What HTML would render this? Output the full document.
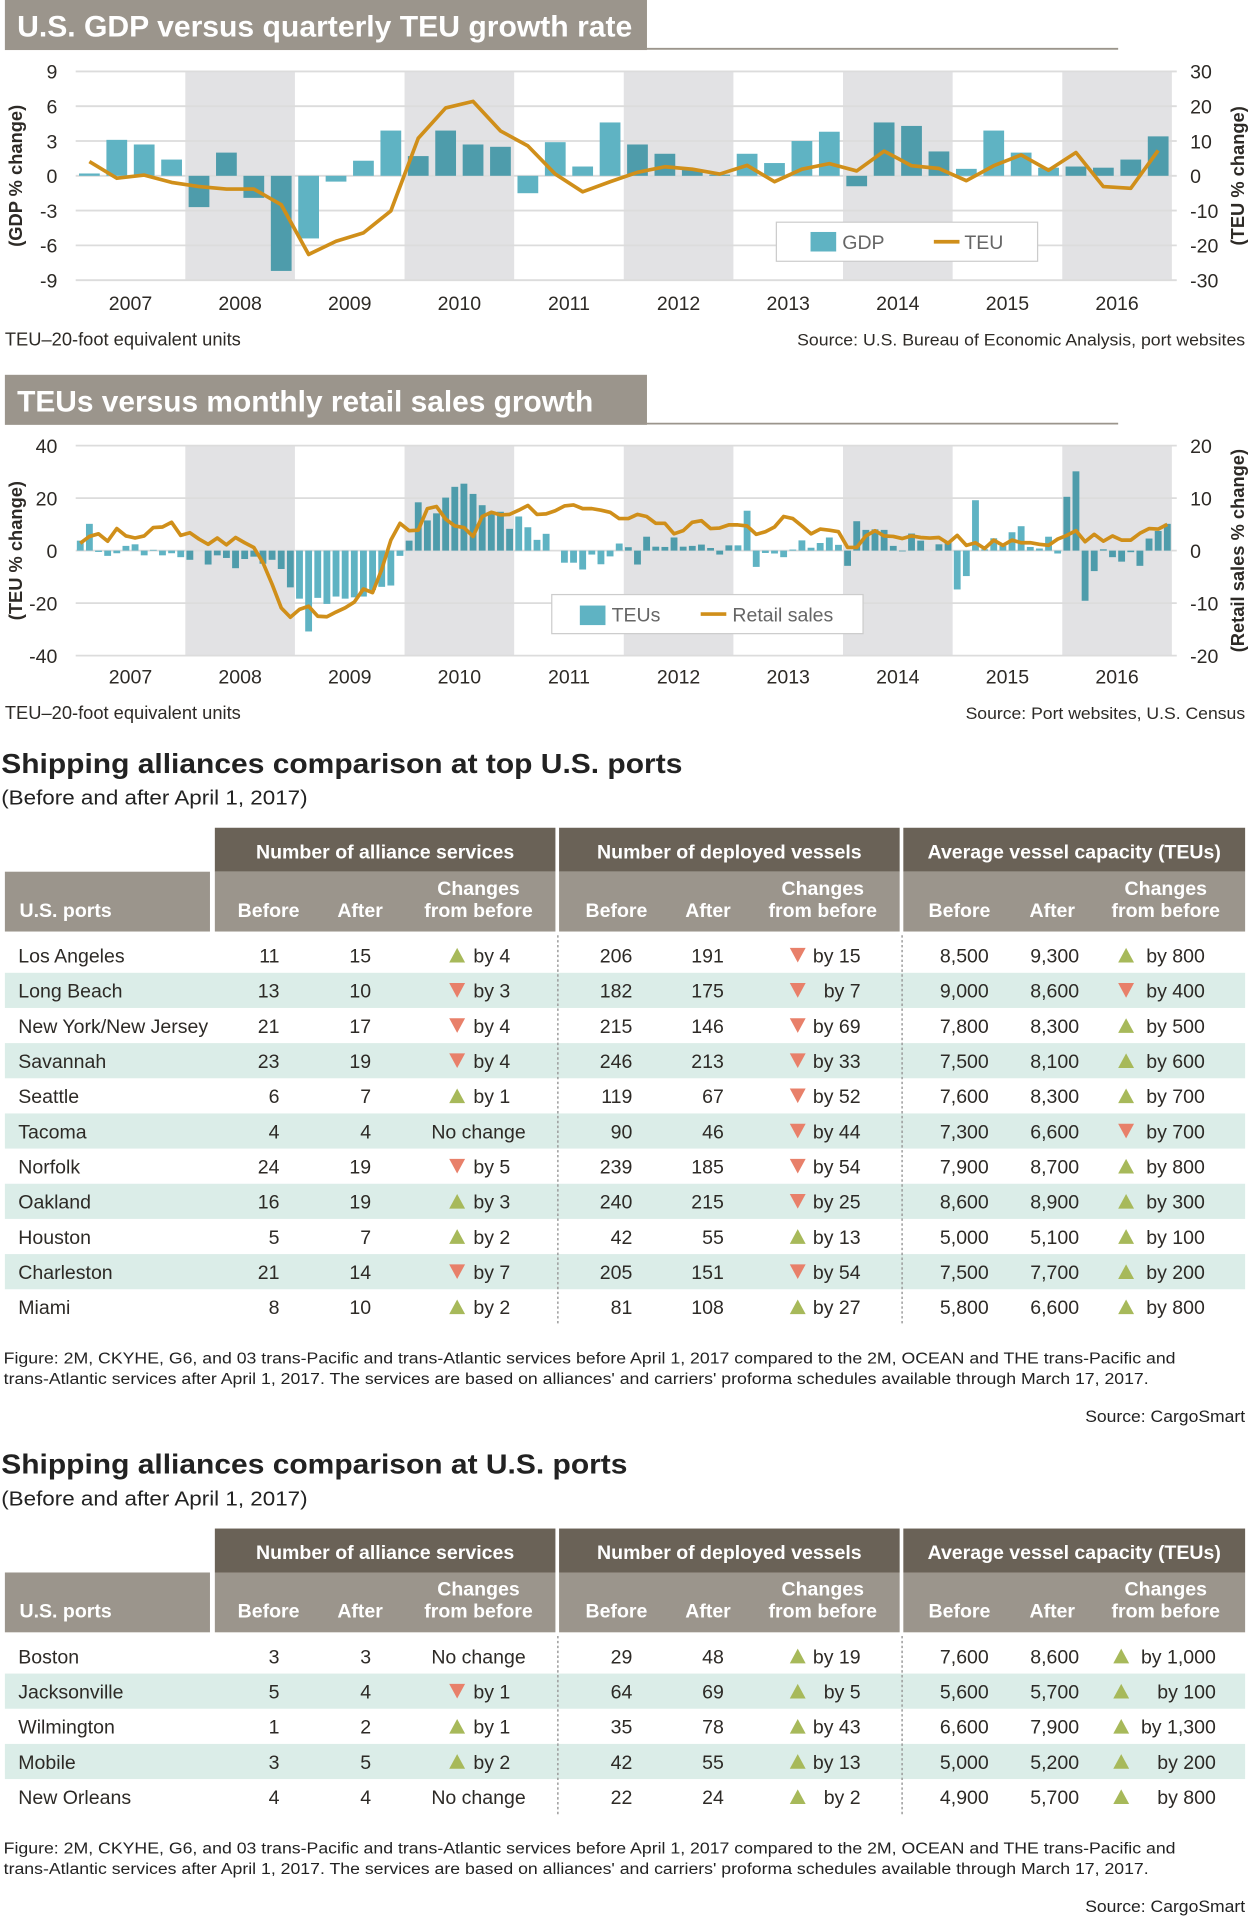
<!DOCTYPE html>
<html><head><meta charset="utf-8">
<style>
html,body{margin:0;padding:0;background:#fff;}
svg{display:block;font-family:"Liberation Sans",Arial,sans-serif;}
</style></head>
<body>
<svg id="page" width="1250" height="1918" viewBox="0 0 1024 1571" preserveAspectRatio="none" xmlns="http://www.w3.org/2000/svg">
  <g id="c1"></g>
  <g id="c2"></g>
  <g id="t1"></g>
  <g id="t2"></g>
</svg>
<script>
// ---------- Chart 1 data (quarterly 2007Q1..2016Q4) ----------
const years = [2007,2008,2009,2010,2011,2012,2013,2014,2015,2016];
const gdpTicks = [9,6,3,0,-3,-6,-9];
const teuTicks1 = [30,20,10,0,-10,-20,-30];
const gdpValues = [0.2,3.1,2.7,1.4, -2.7,2.0,-1.9,-8.2, -5.4,-0.5,1.3,3.9, 1.7,3.9,2.7,2.5,
  -1.5,2.9,0.8,4.6, 2.7,1.9,0.5,0.1, 1.9,1.1,3.0,3.8, -0.9,4.6,4.3,2.1, 0.6,3.9,2.0,0.7, 0.8,0.7,1.4,3.4];
const teuQuarterly = [4.1,-0.7,0.2,-1.9, -3.1,-3.8,-3.8,-8.3, -22.6,-18.8,-16.4,-10.1, 10.8,19.5,21.4,12.9,
  8.6,0.5,-4.6,-1.7, 1.0,2.6,1.9,0.5, 3.0,-1.7,1.9,3.5, 1.4,7.1,2.9,2.1, -1.4,2.9,6.0,1.6, 6.7,-3.1,-3.6,7.3];
// ---------- Chart 2 data (monthly 2007-01..2016-12) ----------
const teuTicks2 = [40,20,0,-20,-40];
const retailTicks = [20,10,0,-10,-20];
const teuMonthly = [3.8,10.2,-0.5,-2,-1,1.8,2.4,-1.8,0.3,-1.8,-1,-2.5,
  -3.5,0,-5.3,-1.8,-2.8,-6.7,-3.2,-2.3,-5,-3.5,-7,-14,
  -18.3,-30.8,-18,-20.3,-17.5,-18.3,-17.8,-17.5,-15,-13.8,-13.3,-2,
  3.8,18.4,11.5,14.2,20.2,24.3,25.5,21.6,17.3,14.8,14.8,8.3,
  13,8.9,4.1,6.4,0,-4.6,-4.6,-7.2,-1.5,-5.2,-2.2,2.7,
  1.3,-5.3,5.3,1.5,1.4,5,1.5,1.8,2.3,1,-1.5,2,
  2,15.2,-6.2,-0.9,-1.1,-2.5,0.4,3.9,1.1,2.9,5,2.2,
  -5.8,11.2,7.9,8.1,7.9,1.8,-0.3,6.5,3.8,0,2.4,3.5,
  -14.8,-9.7,19.2,0.5,4.7,1.8,7,9.3,1.4,0.8,5.3,-1.1,
  20.5,30.2,-19.1,-7.8,0.5,-2.5,-4.2,-0.6,-5.8,4.6,7.5,10.2];
const retailMonthly = [1.4,2.7,3.2,1.8,4.2,2.8,2.4,2.8,4.4,4.5,5.4,2.9,
  3.4,2.2,1.2,2.4,1.1,2.5,1.5,0.6,-2.3,-6.4,-10.9,-12.7,
  -11.2,-10.6,-12.5,-12.6,-11.7,-10.9,-9.8,-7.3,-8,-3.6,2,5.2,
  3.8,3.9,8,8.4,6,4.7,4.4,2.7,6.5,7.3,6.8,6.9,
  7.7,8.6,6.9,7,7.6,8.5,8.7,8,8,7.7,7.3,6.1,
  6.1,6.9,6.5,5.2,5.2,3.2,3.8,5.4,5.7,4.2,4.3,4.9,
  4.9,4.7,3.1,3.6,4.5,6.5,6.1,4.7,3.2,4.1,3.9,3.6,
  0.6,0.6,2.8,3.8,2.8,2.7,2.3,2.8,2.5,2.4,2.5,1.4,
  2.9,1,1.5,0.4,2,1,2,1.5,1.5,1.2,1,2.2,
  2.9,3.8,1.7,3.1,1.8,2.8,2,2,3.3,4.2,4.1,5];
// ---------- Table data ----------
const ports1 = ["Los Angeles","Long Beach","New York/New Jersey","Savannah","Seattle","Tacoma","Norfolk","Oakland","Houston","Charleston","Miami"];
const svcBefore1 = [11,13,21,23,6,4,24,16,5,21,8];
const svcAfter1 = [15,10,17,19,7,4,19,19,7,14,10];
const vesBefore1 = [206,182,215,246,119,90,239,240,42,205,81];
const vesAfter1 = [191,175,146,213,67,46,185,215,55,151,108];
const capBefore1 = [8500,9000,7800,7500,7600,7300,7900,8600,5000,7500,5800];
const capAfter1 = [9300,8600,8300,8100,8300,6600,8700,8900,5100,7700,6600];
const ports2 = ["Boston","Jacksonville","Wilmington","Mobile","New Orleans"];
const svcBefore2 = [3,5,1,3,4];
const svcAfter2 = [3,4,2,5,4];
const vesBefore2 = [29,64,35,42,22];
const vesAfter2 = [48,69,78,55,24];
const capBefore2 = [7600,5600,6600,5000,4900];
const capAfter2 = [8600,5700,7900,5200,5700];

const NS="http://www.w3.org/2000/svg";
function el(parent,tag,attrs,txt){const e=document.createElementNS(NS,tag);for(const k in attrs)e.setAttribute(k,attrs[k]);if(txt!==undefined)e.textContent=txt;parent.appendChild(e);return e;}
const TXT="#2d2a26", GRID="#dcdcdc", SHADE="#e2e2e4", BAR="#5fb3c3", BARD="#4e9cab", LINE="#d08f1a";
const X0=62, YW=89.8;
function xYear(t){return X0+(t-2007)*YW;}

function titleBar(g,y,text,len){
  const r=el(g,'rect',{x:4,y:y,width:526,height:41,fill:'#9b958c'});
  
  el(g,'line',{x1:530,y1:y+40,x2:916,y2:y+40,stroke:'#9b958c','stroke-width':1.5});
  const t=el(g,'text',{x:14,y:y+30,fill:'#fff','font-size':24,'font-weight':'bold',textLength:len,lengthAdjust:'spacingAndGlyphs'},text);
  
}
function shades(g,top,bot){
  [2008,2010,2012,2014,2016].forEach(yr=>{
    const r=el(g,'rect',{x:xYear(yr),y:top,width:YW,height:bot-top,fill:SHADE});
    
  });
}
function isShaded(t){const y=Math.floor(t);return y%2===0;}

// ---------- Chart 1 ----------
(function(){
  const g=document.getElementById('c1');
  titleBar(g,0,'U.S. GDP versus quarterly TEU growth rate',504);
  const top=59,bot=230;
  const yG=v=>144-(v)*(bot-top)/18;
  const yT=v=>144-(v)*(bot-top)/60;
  shades(g,top,bot);
  gdpTicks.forEach((v,i)=>{
    el(g,'line',{x1:X0,y1:yG(v),x2:964,y2:yG(v),stroke:GRID,'stroke-width':1.5});
    const t=el(g,'text',{x:47,y:yG(v)+6,'text-anchor':'end','font-size':16,fill:TXT},String(v));
    
    const t2=el(g,'text',{x:975,y:yT(teuTicks1[i])+6,'font-size':16,fill:TXT},String(teuTicks1[i]));
    
  });
  const qw=YW/4;
  gdpValues.forEach((v,i)=>{
    const t=2007+i/4, cx=X0+qw*(i+0.5);
    const y0=yG(0), y1=yG(v);
    const b=el(g,'rect',{x:cx-8.5,y:Math.min(y0,y1),width:17,height:Math.abs(y1-y0),fill:isShaded(t)?BARD:BAR});
    
  });
  const pts=teuQuarterly.map((v,i)=>(X0+qw*(i+0.5))+','+yT(v)).join(' ');
  const pl=el(g,'polyline',{points:pts,fill:'none',stroke:LINE,'stroke-width':3,'stroke-linejoin':'round'});
  
  years.forEach(yr=>{
    const t=el(g,'text',{x:xYear(yr)+YW/2,y:254,'text-anchor':'middle','font-size':16,fill:TXT},String(yr));
    
  });
  const a=el(g,'text',{transform:'translate(18,144) rotate(-90)','text-anchor':'middle','font-size':15,'font-weight':'bold',fill:TXT},'(GDP % change)');
  
  const a2=el(g,'text',{transform:'translate(1019,144) rotate(-90)','text-anchor':'middle','font-size':15,'font-weight':'bold',fill:TXT},'(TEU % change)');
  
  const lg=el(g,'g',{});
  
  el(lg,'rect',{x:636,y:182,width:214,height:32,fill:'#fff',stroke:'#ccc','stroke-width':1});
  el(lg,'rect',{x:664,y:190,width:21,height:16,fill:BAR});
  el(lg,'text',{x:690,y:204,'font-size':16,fill:'#666'},'GDP');
  el(lg,'line',{x1:765,y1:198,x2:786,y2:198,stroke:LINE,'stroke-width':3});
  el(lg,'text',{x:790,y:204,'font-size':16,fill:'#666'},'TEU');
  const f=el(g,'text',{x:4,y:283,'font-size':15,fill:TXT},'TEU–20-foot equivalent units');
  
  const s=el(g,'text',{x:1020,y:283,'text-anchor':'end','font-size':13.5,fill:TXT,textLength:367,lengthAdjust:'spacingAndGlyphs'},'Source: U.S. Bureau of Economic Analysis, port websites');
  
})();

// ---------- Chart 2 ----------
(function(){
  const g=document.getElementById('c2');
  titleBar(g,307,'TEUs versus monthly retail sales growth',472);
  const top=365,bot=537;
  const yL=v=>451-v*(bot-top)/80;
  const yR=v=>451-v*(bot-top)/40;
  shades(g,top,bot);
  teuTicks2.forEach((v,i)=>{
    el(g,'line',{x1:X0,y1:yL(v),x2:964,y2:yL(v),stroke:GRID,'stroke-width':1.5});
    const t=el(g,'text',{x:47,y:yL(v)+6,'text-anchor':'end','font-size':16,fill:TXT},String(v));
    
    const t2=el(g,'text',{x:975,y:yR(retailTicks[i])+6,'font-size':16,fill:TXT},String(retailTicks[i]));
    
  });
  const mw=YW/12;
  teuMonthly.forEach((v,i)=>{
    const t=2007+i/12, cx=X0+mw*(i+0.5);
    const y0=yL(0),y1=yL(v);
    const b=el(g,'rect',{x:cx-2.8,y:Math.min(y0,y1),width:5.6,height:Math.abs(y1-y0),fill:isShaded(t)?BARD:BAR});
    
  });
  const pts=retailMonthly.map((v,i)=>(X0+mw*(i+0.5))+','+yR(v)).join(' ');
  const pl=el(g,'polyline',{points:pts,fill:'none',stroke:LINE,'stroke-width':3,'stroke-linejoin':'round'});
  
  years.forEach(yr=>{
    const t=el(g,'text',{x:xYear(yr)+YW/2,y:560,'text-anchor':'middle','font-size':16,fill:TXT},String(yr));
    
  });
  const a=el(g,'text',{transform:'translate(18,451) rotate(-90)','text-anchor':'middle','font-size':15,'font-weight':'bold',fill:TXT},'(TEU % change)');
  
  const a2=el(g,'text',{transform:'translate(1019,451) rotate(-90)','text-anchor':'middle','font-size':15,'font-weight':'bold',fill:TXT},'(Retail sales % change)');
  
  const lg=el(g,'g',{});
  
  el(lg,'rect',{x:452,y:487,width:255,height:32,fill:'#fff',stroke:'#ccc','stroke-width':1});
  el(lg,'rect',{x:475,y:496,width:21,height:16,fill:BAR});
  el(lg,'text',{x:501,y:509,'font-size':16,fill:'#666'},'TEUs');
  el(lg,'line',{x1:574,y1:503,x2:595,y2:503,stroke:LINE,'stroke-width':3});
  el(lg,'text',{x:600,y:509,'font-size':16,fill:'#666'},'Retail sales');
  const f=el(g,'text',{x:4,y:589,'font-size':15,fill:TXT},'TEU–20-foot equivalent units');
  
  const s=el(g,'text',{x:1020,y:589,'text-anchor':'end','font-size':13.5,fill:TXT,textLength:229,lengthAdjust:'spacingAndGlyphs'},'Source: Port websites, U.S. Census');
  
})();

// ---------- Tables ----------
function fmt(n){return n.toLocaleString('en-US');}
function tri(g,x,cy,up){
  const p=up?`${x},${cy+6} ${x+13},${cy+6} ${x+6.5},${cy-6}`:`${x},${cy-6} ${x+13},${cy-6} ${x+6.5},${cy+6}`;
  const t=el(g,'polygon',{points:p,fill:up?'#a7b95a':'#e8806a'});
  
}
function changeCell(g,triX,textRight,cy,b,a,center){
  if(a===b){el(g,'text',{x:center,y:cy+6,'text-anchor':'middle','font-size':16,fill:TXT},'No change');return;}
  tri(g,triX,cy,a>b);
  el(g,'text',{x:textRight,y:cy+6,'text-anchor':'end','font-size':16,fill:TXT},'by '+fmt(Math.abs(a-b)));
}
function table(g,y0,title,titleLen,capRight,ports,sb,sa,vb,va,cb,ca){
  const tt=el(g,'text',{x:1,y:y0+19,'font-size':23,'font-weight':'bold',fill:'#222',textLength:titleLen,lengthAdjust:'spacingAndGlyphs'},title);
  
  const st=el(g,'text',{x:1,y:y0+45,'font-size':17,fill:'#222',textLength:251,lengthAdjust:'spacingAndGlyphs'},'(Before and after April 1, 2017)');
  
  const hy=y0+64;
  const groups=[[176,455,'Number of alliance services'],[458,737,'Number of deployed vessels'],[740,1020,'Average vessel capacity (TEUs)']];
  groups.forEach(([x1,x2,lab])=>{
    el(g,'rect',{x:x1,y:hy,width:x2-x1,height:36,fill:'#6a6257'});
    const t=el(g,'text',{x:(x1+x2)/2,y:hy+25,'text-anchor':'middle','font-size':16,'font-weight':'bold',fill:'#fff'},lab);
    
    el(g,'rect',{x:x1,y:hy+36,width:x2-x1,height:49,fill:'#9b958c'});
  });
  el(g,'rect',{x:4,y:hy+36,width:168,height:49,fill:'#9b958c'});
  const hb=hy+73;
  el(g,'text',{x:16,y:hb,'font-size':16,'font-weight':'bold',fill:'#fff'},'U.S. ports');
  const cols=[[220,295,392],[505,580,674],[786,862,955]];
  cols.forEach(([b,a,c])=>{
    el(g,'text',{x:b,y:hb,'text-anchor':'middle','font-size':16,'font-weight':'bold',fill:'#fff'},'Before');
    el(g,'text',{x:a,y:hb,'text-anchor':'middle','font-size':16,'font-weight':'bold',fill:'#fff'},'After');
    el(g,'text',{x:c,y:hb-18,'text-anchor':'middle','font-size':16,'font-weight':'bold',fill:'#fff'},'Changes');
    el(g,'text',{x:c,y:hb,'text-anchor':'middle','font-size':16,'font-weight':'bold',fill:'#fff'},'from before');
  });
  const ry=hy+90, rh=28.8;
  ports.forEach((p,i)=>{
    const top=ry+i*rh, cy=top+rh/2;
    const row=el(g,'g',{});
    
    if(i%2===1) el(row,'rect',{x:4,y:top,width:1016,height:rh,fill:'#dbede8'});
    el(row,'text',{x:15,y:cy+6,'font-size':16,fill:TXT},p);
    el(row,'text',{x:229,y:cy+6,'text-anchor':'end','font-size':16,fill:TXT},fmt(sb[i]));
    el(row,'text',{x:304,y:cy+6,'text-anchor':'end','font-size':16,fill:TXT},fmt(sa[i]));
    changeCell(row,368,418,cy,sb[i],sa[i],392);
    el(row,'text',{x:518,y:cy+6,'text-anchor':'end','font-size':16,fill:TXT},fmt(vb[i]));
    el(row,'text',{x:593,y:cy+6,'text-anchor':'end','font-size':16,fill:TXT},fmt(va[i]));
    changeCell(row,647,705,cy,vb[i],va[i],674);
    el(row,'text',{x:810,y:cy+6,'text-anchor':'end','font-size':16,fill:TXT},fmt(cb[i]));
    el(row,'text',{x:884,y:cy+6,'text-anchor':'end','font-size':16,fill:TXT},fmt(ca[i]));
    changeCell(row,capRight>990?912:916,capRight,cy,cb[i],ca[i],955);
  });
  const ye=ry+ports.length*rh;
  [457,739].forEach(x=>el(g,'line',{x1:x,y1:hy+88,x2:x,y2:ye,stroke:'#999','stroke-width':1.2,'stroke-dasharray':'2,2'}));
  const fy=ye+32;
  const n1=el(g,'text',{x:3,y:fy,'font-size':13.2,fill:'#222',textLength:960,lengthAdjust:'spacingAndGlyphs'},"Figure: 2M, CKYHE, G6, and 03 trans-Pacific and trans-Atlantic services before April 1, 2017 compared to the 2M, OCEAN and THE trans-Pacific and");
  
  el(g,'text',{x:3,y:fy+17,'font-size':13.2,fill:'#222',textLength:938,lengthAdjust:'spacingAndGlyphs'},"trans-Atlantic services after April 1, 2017. The services are based on alliances' and carriers' proforma schedules available through March 17, 2017.");
  const s=el(g,'text',{x:1020,y:fy+48,'text-anchor':'end','font-size':13.5,fill:'#222',textLength:131,lengthAdjust:'spacingAndGlyphs'},'Source: CargoSmart');
  
}
table(document.getElementById('t1'),614,'Shipping alliances comparison at top U.S. ports',558,987,ports1,svcBefore1,svcAfter1,vesBefore1,vesAfter1,capBefore1,capAfter1);
table(document.getElementById('t2'),1188,'Shipping alliances comparison at U.S. ports',513,996,ports2,svcBefore2,svcAfter2,vesBefore2,vesAfter2,capBefore2,capAfter2);
</script>
</body></html>
